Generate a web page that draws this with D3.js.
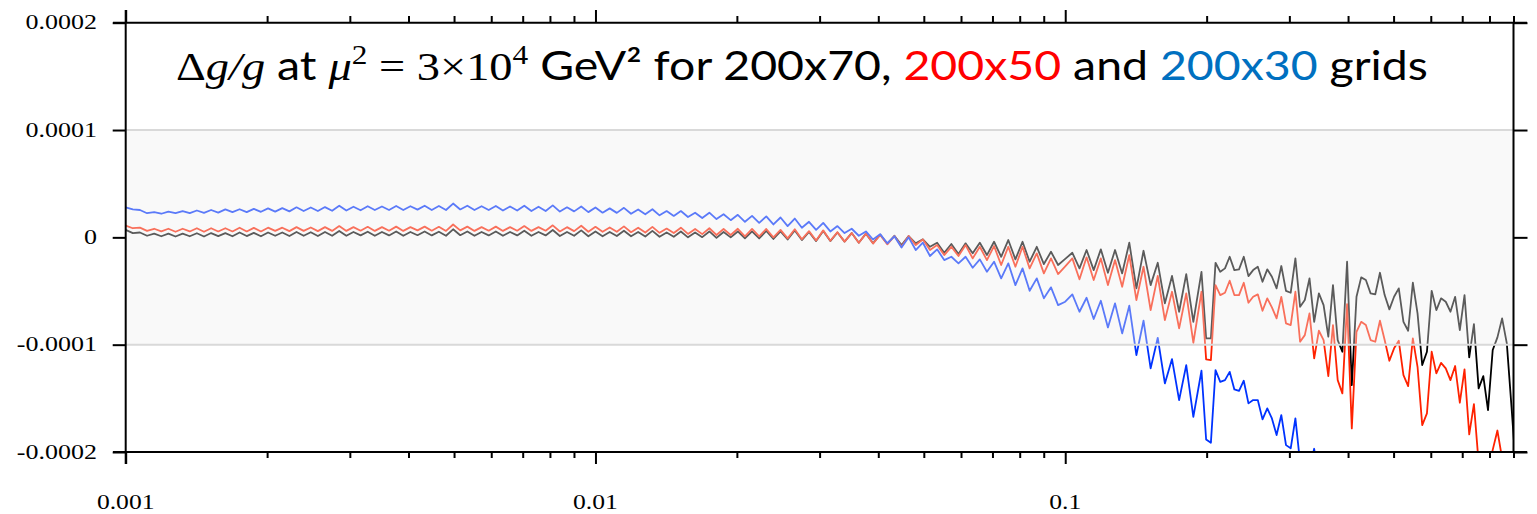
<!DOCTYPE html>
<html><head><meta charset="utf-8">
<script src="https://cdn.jsdelivr.net/npm/d3@7"></script>
<style>body{margin:0;background:#fff} svg{display:block} text{white-space:pre}</style>
</head><body>
<svg id="c" width="1537" height="514"></svg>
<script>
// x grid (shared by all three series)
const xGrid = [
1.0000e-3,1.0355e-3,1.0723e-3,1.1103e-3,1.1498e-3,1.1906e-3,1.2328e-3,1.2766e-3,1.3219e-3,1.3689e-3,1.4175e-3,1.4678e-3,1.5199e-3,1.5739e-3,1.6298e-3,1.6877e-3,1.7476e-3,1.8097e-3,1.8738e-3,1.9404e-3,2.0092e-3,2.0806e-3,2.1544e-3,2.2309e-3,2.3101e-3,2.3921e-3,2.4771e-3,2.5650e-3,2.6561e-3,2.7504e-3,2.8480e-3,2.9492e-3,3.0539e-3,3.1623e-3,3.2745e-3,3.3908e-3,3.5112e-3,3.6359e-3,3.7649e-3,3.8986e-3,4.0370e-3,4.1804e-3,4.3288e-3,4.4825e-3,4.6416e-3,4.8064e-3,4.9770e-3,5.1537e-3,5.3367e-3,5.5262e-3,5.7224e-3,5.9256e-3,6.1359e-3,6.3538e-3,6.5793e-3,6.8129e-3,7.0548e-3,7.3053e-3,7.5646e-3,7.8332e-3,8.1113e-3,8.3993e-3,8.6975e-3,9.0063e-3,9.3260e-3,9.6571e-3,
1.0000e-2,1.0355e-2,1.0723e-2,1.1103e-2,1.1498e-2,1.1906e-2,1.2328e-2,1.2766e-2,1.3219e-2,1.3689e-2,1.4175e-2,1.4678e-2,1.5199e-2,1.5739e-2,1.6298e-2,1.6877e-2,1.7476e-2,1.8097e-2,1.8738e-2,1.9404e-2,2.0092e-2,2.0806e-2,2.1544e-2,2.2309e-2,2.3101e-2,2.3921e-2,2.4771e-2,2.5650e-2,2.6561e-2,2.7504e-2,2.8480e-2,2.9492e-2,3.0539e-2,3.1623e-2,3.2745e-2,3.3908e-2,3.5112e-2,3.6359e-2,3.7649e-2,3.8986e-2,4.0370e-2,4.1804e-2,4.3288e-2,4.4825e-2,4.6416e-2,4.8064e-2,4.9770e-2,5.1537e-2,5.3367e-2,5.5262e-2,5.7224e-2,5.9256e-2,6.1359e-2,6.3538e-2,6.5793e-2,6.8129e-2,7.0548e-2,7.3053e-2,7.5646e-2,7.8332e-2,8.1113e-2,8.3993e-2,8.6975e-2,9.0063e-2,9.3260e-2,9.6571e-2,
1.0000e-1,1.0355e-1,1.0723e-1,1.1103e-1,1.1498e-1,1.1906e-1,1.2328e-1,1.2766e-1,1.3219e-1,1.3689e-1,1.4175e-1,1.4678e-1,1.5199e-1,1.5739e-1,1.6298e-1,1.6877e-1,1.7476e-1,1.8097e-1,1.8738e-1,
1.950e-1,1.995e-1,2.042e-1,2.089e-1,2.138e-1,2.188e-1,2.239e-1,2.291e-1,2.344e-1,2.399e-1,2.455e-1,2.512e-1,2.570e-1,2.630e-1,2.692e-1,2.754e-1,2.818e-1,2.884e-1,2.951e-1,3.020e-1,3.090e-1,3.162e-1,3.236e-1,3.311e-1,3.388e-1,3.467e-1,3.548e-1,3.631e-1,3.715e-1,3.802e-1,3.890e-1,3.981e-1,4.074e-1,4.169e-1,4.266e-1,4.365e-1,4.467e-1,4.571e-1,4.677e-1,4.786e-1,4.898e-1,5.012e-1,5.129e-1,5.248e-1,5.370e-1,5.495e-1,5.623e-1,5.754e-1,5.888e-1,6.026e-1,6.166e-1,6.310e-1,6.457e-1,6.607e-1,6.761e-1,6.918e-1,7.079e-1,7.244e-1,7.413e-1,7.586e-1,7.762e-1,7.943e-1,8.128e-1,8.318e-1,8.511e-1,8.710e-1,8.913e-1,9.120e-1
];

// Δg/g values, in units of 1e-5
const black200x70 = [
0.70,0.40,0.45,0.15,0.35,0.10,0.35,0.08,0.35,0.10,
0.38,0.08,0.40,0.12,0.40,0.10,0.45,0.12,0.42,0.10,
0.45,0.15,0.45,0.12,0.50,0.15,0.48,0.12,0.50,0.15,
0.60,0.15,0.50,0.18,0.52,0.15,0.50,0.18,0.55,0.15,
0.50,0.20,0.55,0.18,0.52,0.15,0.75,0.20,0.55,0.15,
0.50,0.18,0.55,0.15,0.50,0.18,0.62,0.15,0.50,0.18,
0.68,0.12,0.50,0.15,0.65,0.10,0.55,0.10,0.50,0.12,
0.62,0.10,0.50,0.08,0.60,0.05,0.45,0.05,0.55,0.00,
0.45,0.02,0.55,-0.05,0.50,0.00,0.55,-0.10,0.55,-0.10,
0.60,-0.15,0.55,-0.20,0.65,-0.25,0.50,-0.35,0.60,-0.35,
0.45,-0.40,0.40,-0.50,0.35,-0.55,0.25,-0.60,0.15,-0.72,
0.12,-0.56,-0.19,-0.88,-0.50,-1.44,-0.62,-1.56,-0.56,-1.49,
-0.50,-1.65,-0.41,-1.81,-0.25,-2.05,-0.41,-2.27,-0.88,-2.49,
-1.34,-2.58,-2.00,-1.44,-2.89,-1.18,-3.05,-1.12,-3.30,-1.18,
-3.36,-0.50,-4.75,-1.25,-4.45,-2.37,-6.15,-3.60,-6.93,-3.42,
-7.87,
-3.21,-9.41,-9.41,-2.37,-3.21,-2.89,-1.81,-3.05,-2.98,-1.81,
-3.61,-3.05,-2.74,-4.14,-2.98,-3.67,-4.75,-2.67,-4.98,-5.16,
-1.96,-6.47,-5.84,-3.82,-7.87,-5.22,-6.31,-9.26,-4.45,-9.57,
-10.66,-2.27,-13.77,-5.54,-3.73,-3.98,-5.22,-5.31,-3.30,-5.38,
-6.71,-5.54,-4.75,-7.87,-8.70,-4.23,-7.08,-11.90,-10.66,-4.98,
-6.78,-5.68,-6.00,-6.93,-5.54,-8.64,-5.38,-11.18,-8.08,-14.07,
-12.93,-16.10,-10.50,-9.32,-7.55,-9.88,-15.79,-22.0
];
const red200x50 = [
1.10,0.85,0.90,0.60,0.80,0.55,0.80,0.52,0.80,0.55,
0.85,0.52,0.85,0.55,0.85,0.55,0.90,0.55,0.88,0.55,
0.90,0.60,0.90,0.58,0.95,0.60,0.92,0.58,0.95,0.60,
1.05,0.60,0.95,0.62,0.98,0.60,0.95,0.62,1.00,0.60,
0.95,0.65,1.00,0.62,0.98,0.60,1.20,0.65,1.00,0.60,
0.95,0.62,1.00,0.60,0.95,0.62,1.05,0.60,0.95,0.62,
1.12,0.55,0.95,0.58,1.08,0.52,0.98,0.52,0.92,0.52,
1.02,0.48,0.90,0.45,0.98,0.42,0.82,0.40,0.90,0.32,
0.78,0.30,0.85,0.22,0.78,0.22,0.80,0.10,0.78,0.08,
0.78,0.00,0.70,-0.10,0.75,-0.18,0.58,-0.30,0.65,-0.32,
0.48,-0.40,0.40,-0.50,0.35,-0.58,0.22,-0.65,0.12,-0.88,
0.12,-0.72,-0.19,-1.18,-0.72,-1.65,-0.88,-1.74,-0.72,-1.96,
-0.88,-2.12,-0.81,-2.58,-0.88,-2.74,-0.88,-2.89,-1.49,-3.36,
-1.96,-3.42,-2.70,-1.96,-3.91,-1.86,-3.98,-1.96,-4.45,-2.12,
-4.60,-1.65,-5.84,-2.74,-6.78,-3.60,-7.71,-5.07,-8.48,-5.22,
-9.82,
-5.07,-11.37,-11.44,-4.45,-5.38,-5.16,-4.04,-5.38,-5.38,-4.23,
-6.09,-5.54,-5.31,-6.84,-5.68,-6.52,-7.55,-5.54,-8.01,-8.17,
-5.07,-9.73,-9.11,-7.08,-11.28,-8.70,-9.57,-12.93,-8.17,-13.30,
-14.54,-6.22,-17.80,-8.80,-7.87,-8.17,-9.57,-9.73,-7.77,-9.57,
-11.50,-10.34,-9.64,-12.83,-13.86,-9.41,-12.06,-17.49,-16.40,-10.66,
-12.67,-11.69,-12.21,-13.30,-11.99,-15.41,-12.30,-18.36,-15.54,-21.0,
-23.0,-22.0,-19.8,-18.0,-20.6,-24.0,-23.0,-25.0
];
const blue200x30 = [
2.80,2.60,2.55,2.25,2.35,2.20,2.40,2.25,2.45,2.25,
2.50,2.28,2.55,2.30,2.60,2.35,2.62,2.35,2.65,2.38,
2.70,2.40,2.72,2.42,2.80,2.45,2.78,2.45,2.82,2.48,
2.95,2.50,2.85,2.52,2.90,2.55,2.88,2.55,2.92,2.55,
2.90,2.58,2.95,2.55,2.92,2.55,3.15,2.60,2.95,2.55,
2.90,2.55,2.92,2.50,2.88,2.50,2.95,2.45,2.85,2.45,
2.98,2.40,2.80,2.42,2.88,2.35,2.78,2.30,2.70,2.28,
2.75,2.20,2.60,2.15,2.62,2.05,2.45,2.00,2.45,1.90,
2.30,1.80,2.30,1.70,2.15,1.60,2.10,1.45,2.00,1.35,
1.95,1.20,1.85,1.05,1.75,0.90,1.45,0.70,1.35,0.55,
1.05,0.40,0.80,0.15,0.55,-0.20,0.30,-0.55,0.10,-0.95,
0.00,-1.18,-0.50,-1.74,-1.12,-2.12,-1.81,-2.42,-1.81,-2.83,
-2.05,-3.21,-2.27,-3.82,-2.42,-4.45,-2.89,-4.98,-3.82,-5.68,
-4.66,-6.31,-6.00,-5.31,-6.93,-5.63,-7.61,-5.91,-8.39,-6.15,
-8.95,-6.37,-10.97,-7.77,-12.21,-9.36,-13.61,-11.34,-15.17,-11.90,
-16.72,
-12.43,-18.83,-19.14,-12.37,-13.46,-13.30,-12.53,-14.17,-14.30,-13.36,
-15.47,-15.16,-15.16,-16.96,-15.94,-16.87,-18.42,-16.56,-19.36,-19.66,
-16.87,-21.0,-22.5,-21.5,-19.7,-23.0
];
const yUnit = 1e-5;

const yTickValues = [2e-4, 1e-4, 0, -1e-4, -2e-4];
const yTickLabels = ["0.0002", "0.0001", "0", "-0.0001", "-0.0002"];
const xMajorTicks = [0.001, 0.01, 0.1];
const xMajorLabels = ["0.001", "0.01", "0.1"];
const xMinorTicks = [0.002,0.003,0.004,0.005,0.006,0.007,0.008,0.009,
                     0.02,0.03,0.04,0.05,0.06,0.07,0.08,0.09,
                     0.2,0.3,0.4,0.5,0.6,0.7,0.8,0.9];
const bandRange = [-1e-4, 1e-4];

const seriesNames = ["200x70", "200x50", "200x30"];
const seriesColors = ["#000000", "#ff2200", "#0033ff"];
const seriesValues = [black200x70, red200x50, blue200x30];

const L = 125.7, R = 1513.5, T = 22.7, B = 452;
const svg = d3.select("#c");
const x = d3.scaleLog().domain([0.001, 0.9]).range([L, R]);
const y = d3.scaleLinear().domain([-2e-4, 2e-4]).range([B, T]);

svg.append("defs").append("clipPath").attr("id", "plot")
  .append("rect").attr("x", L).attr("y", T).attr("width", R - L).attr("height", B - T);

const line = d3.line().x(d => x(d[0])).y(d => y(d[1] * yUnit));
const gLines = svg.append("g").attr("clip-path", "url(#plot)");
seriesValues.forEach((vals, si) => {
  const pts = vals.map((v, i) => [xGrid[i], v]);
  gLines.append("path").datum(pts)
    .attr("d", line).attr("fill", "none")
    .attr("stroke", seriesColors[si]).attr("stroke-width", 1.8)
    .attr("stroke-linejoin", "round");
});

// tolerance band overlay (fades lines inside)
svg.append("rect")
  .attr("x", L).attr("width", R - L)
  .attr("y", y(bandRange[1])).attr("height", y(bandRange[0]) - y(bandRange[1]))
  .attr("fill", "#eeeeee").attr("fill-opacity", 0.38);
bandRange.forEach(v => {
  svg.append("line").attr("x1", L).attr("x2", R).attr("y1", y(v)).attr("y2", y(v))
    .attr("stroke", "#d9d9d9").attr("stroke-width", 2);
});

// axes
function styleAxis(g) {
  g.select(".domain").remove();
  g.selectAll(".tick line").attr("stroke", "#000").attr("stroke-width", 2);
  g.selectAll(".tick text").remove();
}
svg.append("g").attr("transform", `translate(${L},0)`)
  .call(d3.axisLeft(y).tickValues(yTickValues).tickSize(13)).call(styleAxis);
svg.append("g").attr("transform", `translate(${R},0)`)
  .call(d3.axisRight(y).tickValues(yTickValues).tickSize(14)).call(styleAxis);
svg.append("g").attr("transform", `translate(0,${B})`)
  .call(d3.axisBottom(x).tickValues(xMajorTicks).tickSize(12)).call(styleAxis);
svg.append("g").attr("transform", `translate(0,${B})`)
  .call(d3.axisBottom(x).tickValues(xMinorTicks).tickSize(6)).call(styleAxis);
svg.append("g").attr("transform", `translate(0,${T})`)
  .call(d3.axisTop(x).tickValues(xMajorTicks).tickSize(12.7)).call(styleAxis);
svg.append("g").attr("transform", `translate(0,${T})`)
  .call(d3.axisTop(x).tickValues(xMinorTicks).tickSize(6.7)).call(styleAxis);

const axisLines = [
  [L, 10, L, 464], [113, B, 1527, B], [113, T, 1527, T], [R, T, R, B]
];
axisLines.forEach(a => svg.append("line")
  .attr("x1", a[0]).attr("y1", a[1]).attr("x2", a[2]).attr("y2", a[3])
  .attr("stroke", "#000").attr("stroke-width", 2));

// tick labels
yTickValues.forEach((v, i) => {
  svg.append("text")
    .attr("transform", `translate(97,${y(v) + 6.5}) scale(1.3,1)`)
    .attr("text-anchor", "end")
    .attr("font-family", "Liberation Serif").attr("font-size", 20)
    .text(yTickLabels[i]);
});
xMajorTicks.forEach((v, i) => {
  svg.append("text")
    .attr("transform", `translate(${x(v)},509) scale(1.22,1)`)
    .attr("text-anchor", "middle")
    .attr("font-family", "Liberation Serif").attr("font-size", 21)
    .text(xMajorLabels[i]);
});

// title
const serif = "Liberation Serif", sans = "Lato";
const title = svg.append("text").attr("font-size", 40).attr("fill", "#000");
const parts = [
  {t: "Δ", f: serif},
  {t: "g/g", f: serif, i: true},
  {t: " at ", f: sans},
  {t: "μ", f: serif, i: true},
  {t: "2", f: serif, s: true},
  {t: " = 3×10", f: serif},
  {t: "4", f: serif, s: true},
  {t: " GeV² for 200x70, ", f: sans},
  {t: "200x50", f: sans, c: "#ff0000"},
  {t: " and ", f: sans},
  {t: "200x30", f: sans, c: "#0070c0"},
  {t: " grids", f: sans}
];
let raised = false;
parts.forEach(p => {
  const ts = title.append("tspan").attr("font-family", p.f).text(p.t);
  if (p.i) ts.attr("font-style", "italic");
  if (p.c) ts.attr("fill", p.c);
  if (p.s) { ts.attr("font-size", 27).attr("dy", raised ? 0 : -16); raised = true; }
  else if (raised) { ts.attr("dy", 16); raised = false; }
});
const tw = title.node().getComputedTextLength();
const sx = (1428 - 176) / tw;
title.attr("transform", `translate(176,80) scale(${sx},1)`);
</script>
</body></html>
